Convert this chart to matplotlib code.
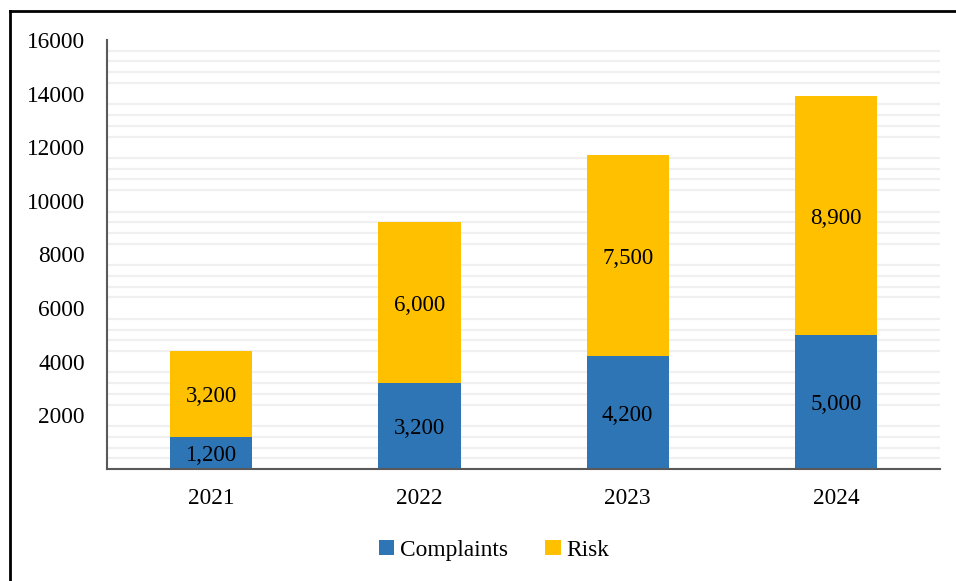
import matplotlib.pyplot as plt
from matplotlib.ticker import MultipleLocator
from matplotlib.lines import Line2D

years = ['2021', '2022', '2023', '2024']
complaints = [1200, 3200, 4200, 5000]
risk = [3200, 6000, 7500, 8900]
ytick_vals = [2000, 4000, 6000, 8000, 10000, 12000, 14000, 16000]

plt.rcParams['font.family'] = ['Liberation Serif', 'DejaVu Serif']

blue = '#2E75B6'
gold = '#FFC000'

fig = plt.figure(figsize=(9.56, 5.81), dpi=100)
ax = fig.add_axes([0.1119, 0.1928, 0.8714, 0.7384])

x = range(len(years))
b1 = ax.bar(x, complaints, width=0.395, color=blue, label='Complaints', zorder=3)
b2 = ax.bar(x, risk, width=0.395, bottom=complaints, color=gold, label='Risk', zorder=3)

# Value labels centred in each segment
for i in x:
    ax.text(i, complaints[i] / 2, f'{complaints[i]:,}', ha='center', va='center_baseline',
            fontsize=16.5, color='black', zorder=4)
    ax.text(i, complaints[i] + risk[i] / 2, f'{risk[i]:,}', ha='center', va='center_baseline',
            fontsize=16.5, color='black', zorder=4)

ax.set_xlim(-0.5, 3.5)
ax.set_ylim(0, 16000)
ax.set_xticks(list(x))
ax.set_xticklabels(years, fontsize=16.8)
ax.set_yticks(ytick_vals)
ax.set_yticklabels([str(v) for v in ytick_vals], fontsize=16.8)
ax.yaxis.set_minor_locator(MultipleLocator(400))
ax.tick_params(axis='both', which='both', length=0)
ax.tick_params(axis='y', pad=16)
ax.tick_params(axis='x', pad=14)

# Only the minor lines are drawn as grid
ax.grid(which='minor', axis='y', color='#F0F0F0', linewidth=1.6, zorder=0)
ax.set_axisbelow(True)

for side in ['top', 'right']:
    ax.spines[side].set_visible(False)
for side in ['left', 'bottom']:
    ax.spines[side].set_color('#595959')
    ax.spines[side].set_linewidth(1.5)
    ax.spines[side].set_zorder(5)

fig.legend(handles=[b1, b2], labels=['Complaints', 'Risk'], loc='center',
           bbox_to_anchor=(0.517, 0.053), ncol=2, frameon=False, fontsize=16.8,
           handlelength=0.65, handleheight=0.65, handletextpad=0.25, columnspacing=1.6)

# Outer frame lines (top and left)
fig.add_artist(Line2D([9.5 / 956, 9.5 / 956], [0, 1 - 10.5 / 581], transform=fig.transFigure,
                      color='black', linewidth=2))
fig.add_artist(Line2D([9.5 / 956, 1], [1 - 10.5 / 581, 1 - 10.5 / 581], transform=fig.transFigure,
                      color='black', linewidth=2))

fig.savefig('out.png', dpi=100)
